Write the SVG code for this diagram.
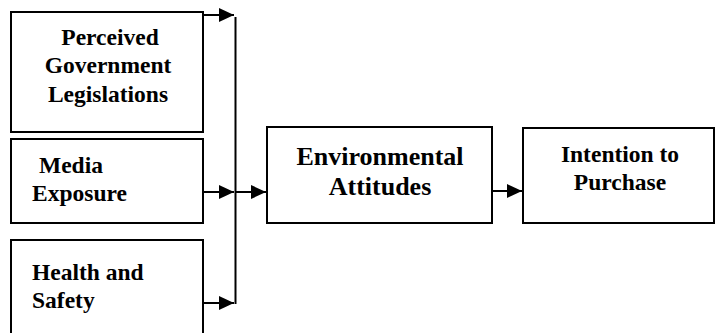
<svg xmlns="http://www.w3.org/2000/svg" width="720" height="333" viewBox="0 0 720 333">
<defs>
<marker id="ah" markerWidth="15" markerHeight="14" refX="15" refY="7" orient="auto" markerUnits="userSpaceOnUse">
<path d="M0,0 L15,7 L0,14 Z" fill="#000"/>
</marker>
</defs>
<rect width="720" height="333" fill="#fff"/>
<g fill="#fff" stroke="#000" stroke-width="2">
<rect id="b1" x="11" y="12" width="192" height="120"/>
<rect id="b2" x="11" y="139" width="192" height="84"/>
<rect id="b3" x="11" y="240" width="192" height="100"/>
<rect id="b4" x="267" y="127" width="225" height="96"/>
<rect id="b5" x="523" y="128" width="191" height="95"/>
</g>
<g font-family="Liberation Serif" font-weight="bold" font-size="23.5" fill="#000">
<g id="n1">
<text x="110" y="45" text-anchor="middle">Perceived</text>
<text x="108" y="73" text-anchor="middle">Government</text>
<text x="108" y="102" text-anchor="middle">Legislations</text>
</g>
<g id="n2">
<text x="39" y="173">Media</text>
<text x="32" y="201">Exposure</text>
</g>
<g id="n3">
<text x="32" y="280">Health and</text>
<text x="32" y="308">Safety</text>
</g>
<g id="n4" font-size="26">
<text x="380" y="165" text-anchor="middle">Environmental</text>
<text x="380" y="195" text-anchor="middle">Attitudes</text>
</g>
<g id="n5">
<text x="620" y="162" text-anchor="middle">Intention to</text>
<text x="620" y="190" text-anchor="middle">Purchase</text>
</g>
</g>
<g id="connectors" fill="none" stroke="#000" stroke-width="2">
<line x1="203" y1="15" x2="234" y2="15" marker-end="url(#ah)"/>
<line x1="203" y1="192" x2="234" y2="192" marker-end="url(#ah)"/>
<line x1="203" y1="303" x2="234" y2="303" marker-end="url(#ah)"/>
<line x1="235.5" y1="17" x2="235.5" y2="304"/>
<line x1="235.5" y1="192" x2="266" y2="192" marker-end="url(#ah)"/>
<line x1="492" y1="191" x2="522" y2="191" marker-end="url(#ah)"/>
</g>
</svg>
